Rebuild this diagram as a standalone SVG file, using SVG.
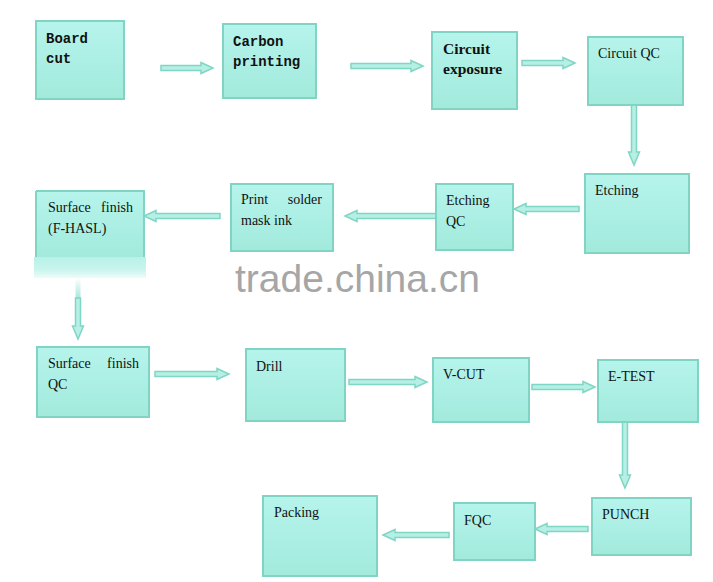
<svg xmlns="http://www.w3.org/2000/svg" width="713" height="582" viewBox="0 0 713 582">
<defs>
<linearGradient id="g" x1="0" y1="0" x2="0" y2="1">
<stop offset="0" stop-color="#b6f4ec"/>
<stop offset="1" stop-color="#a2eadc"/>
</linearGradient>
<linearGradient id="fade" x1="0" y1="0" x2="0" y2="1">
<stop offset="0" stop-color="#b8f1e8"/>
<stop offset="0.6" stop-color="#c8f5ee"/>
<stop offset="1" stop-color="#eefcf9"/>
</linearGradient>
<linearGradient id="fadeline" x1="0" y1="0" x2="0" y2="1">
<stop offset="0" stop-color="#ffffff"/>
<stop offset="1" stop-color="#a8e8dc"/>
</linearGradient>
</defs>
<style>
.box{fill:url(#g);stroke:#7fd4c3;stroke-width:2}
.arr{fill:#b6efe4;stroke:#80d6c5;stroke-width:1.5;stroke-linejoin:miter}
.t{font-family:"Liberation Serif",serif;font-size:14px;fill:#111}
.b{font-family:"Liberation Mono",monospace;font-size:14px;font-weight:bold;fill:#111}
.tb{font-family:"Liberation Serif","DejaVu Serif",serif;font-size:15.5px;font-weight:700;fill:#111}
.wm{font-family:"Liberation Sans",Arial,sans-serif;font-size:39px;fill:#a6a6a6}
</style>
<rect width="713" height="582" fill="#ffffff"/>

<g id="connectors">
<path class="arr" d="M161,65.5 H201 V62.5 L213,68 L201,73.5 V70.5 H161 Z"/>
<path class="arr" d="M351,63.5 H411 V60.5 L423,66 L411,71.5 V68.5 H351 Z"/>
<path class="arr" d="M522,60.5 H563 V57.5 L575,63 L563,68.5 V65.5 H522 Z"/>
<path class="arr" d="M631.5,105 V152 H628.5 L634,165 L639.5,152 H636.5 V105 Z"/>
<path class="arr" d="M579,206.5 H526 V203.5 L514,209 L526,214.5 V211.5 H579 Z"/>
<path class="arr" d="M436,213.5 H357 V210.5 L345,216 L357,221.5 V218.5 H436 Z"/>
<path class="arr" d="M220,213.5 H156 V210.5 L144,216 L156,221.5 V218.5 H220 Z"/>
<rect x="75.5" y="278" width="5" height="20" fill="url(#fadeline)"/>
<path class="arr" d="M75.5,298 V326 H72.5 L78,339 L83.5,326 H80.5 V298 Z"/>
<path class="arr" d="M155,371.5 H217 V368.5 L229,374 L217,379.5 V376.5 H155 Z"/>
<path class="arr" d="M349,379.5 H415 V376.5 L427,382 L415,387.5 V384.5 H349 Z"/>
<path class="arr" d="M532,384.5 H583 V381.5 L595,387 L583,392.5 V389.5 H532 Z"/>
<path class="arr" d="M622.5,422 V475 H619.5 L625,488 L630.5,475 H627.5 V422 Z"/>
<path class="arr" d="M588,526.5 H547 V523.5 L535,529 L547,534.5 V531.5 H588 Z"/>
<path class="arr" d="M449,532.5 H395 V529.5 L383,535 L395,540.5 V537.5 H449 Z"/>
</g>

<g id="board-cut">
<rect class="box" x="36" y="21" width="88" height="78"/>
<text class="b" x="46" y="43">Board</text>
<text class="b" x="46" y="63">cut</text>
</g>
<g id="carbon-printing">
<rect class="box" x="223" y="24" width="93" height="74"/>
<text class="b" x="233" y="46">Carbon</text>
<text class="b" x="233" y="66">printing</text>
</g>
<g id="circuit-exposure">
<rect class="box" x="432" y="32" width="85" height="77"/>
<text class="tb" x="443" y="54">Circuit</text>
<text class="tb" x="443" y="74">exposure</text>
</g>
<g id="circuit-qc">
<rect class="box" x="588" y="37" width="95" height="68"/>
<text class="t" x="598" y="58">Circuit QC</text>
</g>
<g id="etching">
<rect class="box" x="585" y="174" width="104" height="79"/>
<text class="t" x="595" y="195">Etching</text>
</g>
<g id="etching-qc">
<rect class="box" x="436" y="184" width="77" height="66"/>
<text class="t" x="446" y="205">Etching</text>
<text class="t" x="446" y="226">QC</text>
</g>
<g id="print-solder-mask-ink">
<rect class="box" x="231" y="184" width="102" height="67"/>
<text class="t" x="241" y="204">Print</text>
<text class="t" x="322" y="204" text-anchor="end">solder</text>
<text class="t" x="241" y="225">mask ink</text>
</g>
<g id="surface-finish-hasl">
<rect x="34" y="257" width="112" height="21" fill="url(#fade)"/>
<rect class="box" x="36" y="191" width="108" height="66" style="stroke-dasharray:174 108 66 0"/>
<text class="t" x="48" y="212">Surface</text>
<text class="t" x="133" y="212" text-anchor="end">finish</text>
<text class="t" x="48" y="233">(F-HASL)</text>
</g>
<g id="watermark">
<text class="wm" x="235" y="292">trade.china.cn</text>
</g>
<g id="surface-finish-qc">
<rect class="box" x="37" y="347" width="112" height="70"/>
<text class="t" x="48" y="368">Surface</text>
<text class="t" x="139" y="368" text-anchor="end">finish</text>
<text class="t" x="48" y="389">QC</text>
</g>
<g id="drill">
<rect class="box" x="246" y="349" width="99" height="72"/>
<text class="t" x="256" y="371">Drill</text>
</g>
<g id="v-cut">
<rect class="box" x="433" y="358" width="96" height="64"/>
<text class="t" x="443" y="379">V-CUT</text>
</g>
<g id="e-test">
<rect class="box" x="598" y="360" width="100" height="62"/>
<text class="t" x="608" y="381">E-TEST</text>
</g>
<g id="punch">
<rect class="box" x="592" y="498" width="99" height="57"/>
<text class="t" x="602" y="519">PUNCH</text>
</g>
<g id="fqc">
<rect class="box" x="454" y="503" width="81" height="57"/>
<text class="t" x="464" y="525">FQC</text>
</g>
<g id="packing">
<rect class="box" x="263" y="496" width="114" height="80"/>
<text class="t" x="274" y="517">Packing</text>
</g>
</svg>
